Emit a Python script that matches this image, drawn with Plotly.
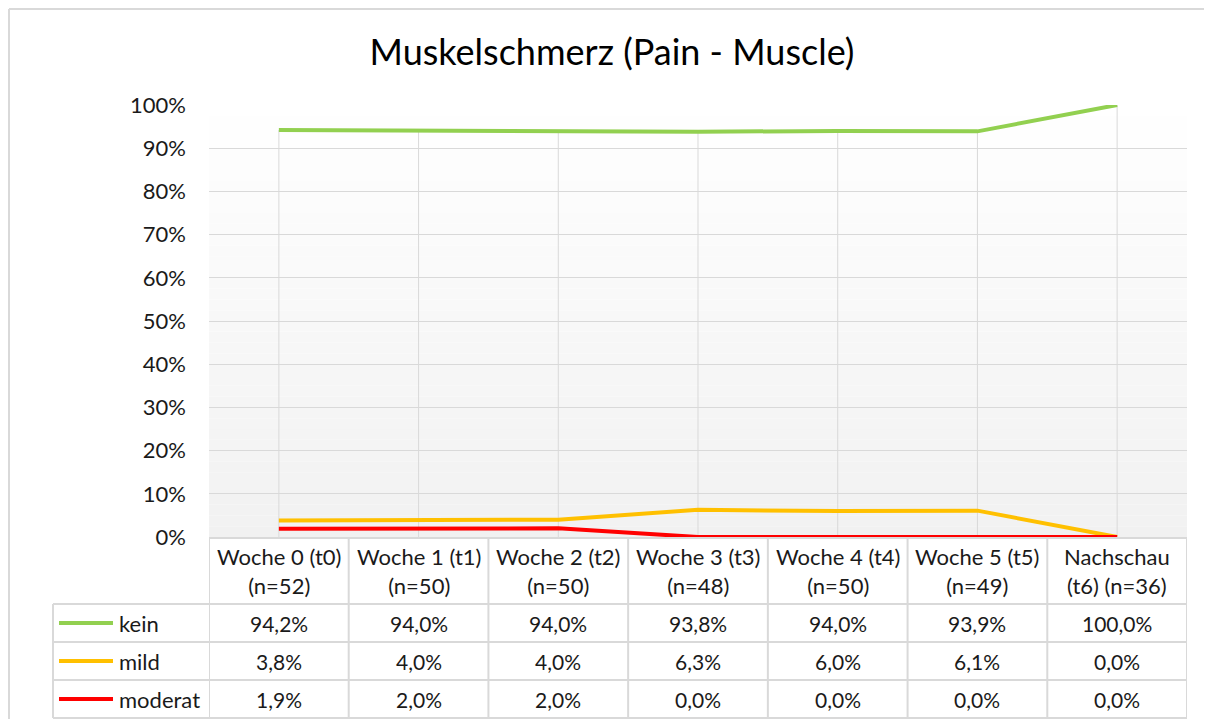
import plotly.graph_objects as go

categories = ["Woche 0 (t0)<br>(n=52)", "Woche 1 (t1)<br>(n=50)", "Woche 2 (t2)<br>(n=50)",
              "Woche 3 (t3)<br>(n=48)", "Woche 4 (t4)<br>(n=50)", "Woche 5 (t5)<br>(n=49)",
              "Nachschau<br>(t6) (n=36)"]
series_names = ["kein", "mild", "moderat"]
kein = [94.2, 94.0, 94.0, 93.8, 94.0, 93.9, 100.0]
mild = [3.8, 4.0, 4.0, 6.3, 6.0, 6.1, 0.0]
moderat = [1.9, 2.0, 2.0, 0.0, 0.0, 0.0, 0.0]
series_values = [kein, mild, moderat]
colors = ["#92d050", "#ffc000", "#ff0000"]
yticks = [i / 10 for i in range(11)]

FONT = "Lato"
TXT = "#1a1a1a"
GRID = "#d9d9d9"

OFF = 8  # page offset of the figure in the screenshot
W, H = 1213 - 2 * OFF, 727 - 2 * OFF
L, T = 209 - OFF, 105 - OFF
R = W - (1187 - OFF)
B = H - (537 - OFF)
PW, PH = W - L - R, H - T - B


def px_x(px):
    return (px - OFF - L) / PW


def px_y(py):
    return (H - B - (py - OFF)) / PH


fig = go.Figure()
n = len(categories)
xs = list(range(n))

for name, vals, col in zip(series_names, series_values, colors):
    fig.add_trace(go.Scatter(x=xs, y=[v / 100 for v in vals], mode="lines", name=name,
                             line=dict(color=col, width=4), showlegend=False,
                             hoverinfo="skip"))

shapes = []
# gradient background
nb = 40
for i in range(nb):
    g = int(round(241 + (255 - 241) * (i + 0.5) / nb))
    shapes.append(dict(type="rect", xref="x domain", yref="y domain", x0=0, x1=1,
                       y0=i / nb, y1=(i + 1) / nb, fillcolor=f"rgb({g},{g},{g})",
                       line=dict(width=0), layer="below"))
# drop lines
for i in xs:
    top = max(s[i] for s in series_values) / 100
    shapes.append(dict(type="line", xref="x", yref="y", x0=i, x1=i, y0=0, y1=top,
                       line=dict(color=GRID, width=1), layer="below"))

# table geometry (reference pixel positions)
row_px = [538, 604, 642, 680, 718]
leg_left = 53
rows_y = [px_y(p) for p in row_px]
shapes.append(dict(type="line", xref="x", yref="paper", x0=-0.5, x1=n - 0.5,
                   y0=rows_y[0], y1=rows_y[0], line=dict(color=GRID, width=2)))
for yy in rows_y[1:]:
    shapes.append(dict(type="line", xref="paper", yref="paper", x0=px_x(leg_left), x1=1,
                       y0=yy, y1=yy, line=dict(color=GRID, width=2)))
for k in range(n + 1):
    shapes.append(dict(type="line", xref="x", yref="paper", x0=k - 0.5, x1=k - 0.5,
                       y0=rows_y[0], y1=rows_y[-1], line=dict(color=GRID, width=2)))
shapes.append(dict(type="line", xref="paper", yref="paper", x0=px_x(leg_left), x1=px_x(leg_left),
                   y0=rows_y[1], y1=rows_y[-1], line=dict(color=GRID, width=2)))
# outer chart border (left and top edges visible)
shapes.append(dict(type="line", xref="paper", yref="paper", x0=px_x(OFF + 1), x1=px_x(OFF + 1),
                   y0=px_y(OFF + 1), y1=px_y(OFF + H), line=dict(color=GRID, width=2)))
shapes.append(dict(type="line", xref="paper", yref="paper", x0=px_x(OFF + 1), x1=px_x(OFF + W - 1),
                   y0=px_y(OFF + 1), y1=px_y(OFF + 1), line=dict(color=GRID, width=2)))

annotations = []
for i, c in enumerate(categories):
    annotations.append(dict(x=i, xref="x", y=(rows_y[0] + rows_y[1]) / 2, yref="paper",
                            text=c, showarrow=False, font=dict(family=FONT, size=22, color=TXT),
                            xanchor="center", yanchor="middle"))
for r, (name, vals, col) in enumerate(zip(series_names, series_values, colors)):
    ymid = (rows_y[r + 1] + rows_y[r + 2]) / 2
    shapes.append(dict(type="line", xref="paper", yref="paper", x0=px_x(59), x1=px_x(113),
                       y0=ymid, y1=ymid, line=dict(color=col, width=4)))
    annotations.append(dict(x=px_x(117), xref="paper", y=ymid, yref="paper", text=name,
                            showarrow=False, font=dict(family=FONT, size=22, color=TXT),
                            xanchor="left", yanchor="middle"))
    for i, v in enumerate(vals):
        annotations.append(dict(x=i, xref="x", y=ymid, yref="paper",
                                text=f"{v:.1f}".replace(".", ",") + "%", showarrow=False,
                                font=dict(family=FONT, size=21, color=TXT),
                                xanchor="center", yanchor="middle"))

fig.update_layout(
    width=W, height=H,
    margin=dict(l=L, r=R, t=T, b=B),
    paper_bgcolor="white", plot_bgcolor="rgba(0,0,0,0)",
    title=dict(text="Muskelschmerz (Pain - Muscle)", x=(612 - OFF) / W,
               xanchor="center", y=1 - (52 - OFF) / H, yanchor="middle",
               font=dict(family=FONT, size=36, color="#000000")),
    xaxis=dict(range=[-0.5, n - 0.5], showticklabels=False, showgrid=False, zeroline=False,
               showline=False, fixedrange=True),
    yaxis=dict(range=[0, 1], tickvals=yticks, tickformat=".0%", showgrid=True,
               gridcolor=GRID, gridwidth=1, zeroline=False, showline=False, ticks="",
               ticklabelstandoff=22, tickfont=dict(family=FONT, size=22, color=TXT)),
    shapes=shapes, annotations=annotations,
)

fig.write_html("out.html")
